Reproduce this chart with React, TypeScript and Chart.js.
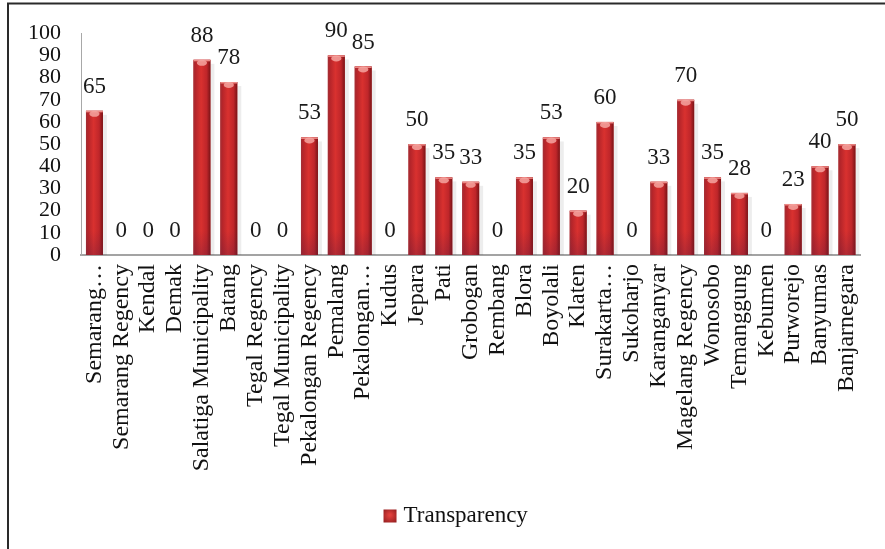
import React, { useEffect, useRef } from "react";
import { Chart, registerables } from "chart.js";

Chart.register(...registerables);

const categories = [
  "Semarang…", "Semarang Regency", "Kendal", "Demak", "Salatiga Municipality", "Batang",
  "Tegal Regency", "Tegal Municipality", "Pekalongan Regency", "Pemalang", "Pekalongan…",
  "Kudus", "Jepara", "Pati", "Grobogan", "Rembang", "Blora", "Boyolali", "Klaten",
  "Surakarta…", "Sukoharjo", "Karanganyar", "Magelang Regency", "Wonosobo", "Temanggung",
  "Kebumen", "Purworejo", "Banyumas", "Banjarnegara",
];
const transparency = [
  65, 0, 0, 0, 88, 78, 0, 0, 53, 90, 85, 0, 50, 35, 33, 0, 35, 53, 20, 60, 0, 33, 70, 35, 28, 0, 23, 40, 50,
];
const seriesName = "Transparency";
const yMin = 0;
const yMax = 100;
const yStep = 10;

const SERIF = "'Liberation Serif', 'Times New Roman', serif";

export default function App() {
  const ref = useRef<HTMLCanvasElement>(null);

  useEffect(() => {
    const canvas = ref.current;
    if (!canvas) return;

    const framePlugin = {
      id: "frame",
      beforeDraw(chart: any) {
        const ctx = chart.ctx;
        ctx.save();
        ctx.fillStyle = "#ffffff";
        ctx.fillRect(0, 0, chart.width, chart.height);
        ctx.strokeStyle = "#2a2a2a";
        ctx.lineWidth = 2;
        ctx.strokeRect(8, 3.5, chart.width + 20, chart.height + 20);
        ctx.restore();
      },
    };

    const barStylePlugin = {
      id: "barStyle",
      afterDatasetsDraw(chart: any) {
        const ctx = chart.ctx;
        const meta = chart.getDatasetMeta(0);
        meta.data.forEach((bar: any, i: number) => {
          const v = transparency[i];
          if (!v) return;
          const { x, y, base, width } = bar.getProps(["x", "y", "base", "width"], true);
          const l = x - width / 2;
          const r = x + width / 2;
          ctx.save();
          ctx.fillStyle = "rgba(0,0,0,0.07)";
          ctx.fillRect(r, y + 4, 4, base - y - 4);
          const g = ctx.createLinearGradient(l, 0, r, 0);
          g.addColorStop(0, "#a03036");
          g.addColorStop(0.12, "#b5252a");
          g.addColorStop(0.45, "#d9312f");
          g.addColorStop(0.78, "#bf262a");
          g.addColorStop(1, "#7a1417");
          ctx.fillStyle = g;
          ctx.fillRect(l, y, width, base - y);
          const gb = ctx.createLinearGradient(0, base - 24, 0, base);
          gb.addColorStop(0, "rgba(110,30,60,0)");
          gb.addColorStop(1, "rgba(110,30,60,0.35)");
          ctx.fillStyle = gb;
          ctx.fillRect(l, base - 24, width, 24);
          ctx.fillStyle = "#ec8a86";
          ctx.fillRect(l, y, width, 1.5);
          ctx.beginPath();
          ctx.ellipse(x, y + 3, width * 0.3, 3, 0, 0, Math.PI * 2);
          ctx.fillStyle = "rgba(245,165,160,0.85)";
          ctx.fill();
          ctx.restore();
        });
      },
    };

    const labelPlugin = {
      id: "valueLabels",
      afterDatasetsDraw(chart: any) {
        const ctx = chart.ctx;
        const meta = chart.getDatasetMeta(0);
        ctx.save();
        ctx.font = `23px ${SERIF}`;
        ctx.fillStyle = "#1a1a1a";
        ctx.textAlign = "center";
        ctx.textBaseline = "middle";
        meta.data.forEach((bar: any, i: number) => {
          const { x, y } = bar.getProps(["x", "y"], true);
          ctx.fillText(String(transparency[i]), x, y - 24);
        });
        ctx.restore();
      },
    };

    const legendPlugin = {
      id: "customLegend",
      afterDraw(chart: any) {
        const ctx = chart.ctx;
        const area = chart.chartArea;
        ctx.save();
        ctx.font = `23px ${SERIF}`;
        const tw = ctx.measureText(seriesName).width;
        const box = 13;
        const gap = 7;
        const total = box + gap + tw;
        const cx = (area.left + area.right) / 2 - 15;
        const cy = chart.height - 33;
        const sx = cx - total / 2;
        const g = ctx.createRadialGradient(sx + box / 2, cy - 1, 1, sx + box / 2, cy, box * 0.75);
        g.addColorStop(0, "#e0403c");
        g.addColorStop(1, "#8a1a1c");
        ctx.fillStyle = g;
        ctx.fillRect(sx, cy - box / 2, box, box);
        ctx.fillStyle = "#111";
        ctx.textAlign = "left";
        ctx.textBaseline = "middle";
        ctx.fillText(seriesName, sx + box + gap, cy);
        ctx.restore();
      },
    };

    const chart = new Chart(canvas, {
      type: "bar",
      data: {
        labels: categories,
        datasets: [
          {
            label: seriesName,
            data: transparency,
            backgroundColor: "#c3282b",
            borderWidth: 0,
            barPercentage: 0.63,
            categoryPercentage: 1,
          },
        ],
      },
      options: {
        responsive: false,
        animation: false,
        devicePixelRatio: 1,
        layout: { padding: { top: 33, left: 10, right: 15, bottom: 0 } },
        plugins: {
          tooltip: { enabled: false },
          legend: { display: false },
        },
        scales: {
          x: {
            grid: { display: false, drawTicks: false },
            border: { display: true, color: "#a3a3a3", width: 2 },
            ticks: {
              autoSkip: false,
              minRotation: 90,
              maxRotation: 90,
              padding: 9,
              color: "#111",
              font: { family: SERIF, size: 24 },
            },
            afterFit(scale: any) {
              scale.height = 294;
            },
          },
          y: {
            min: yMin,
            max: yMax,
            grid: { display: false, drawTicks: false },
            border: { display: true, color: "#a8a8a8", width: 1 },
            ticks: {
              stepSize: yStep,
              autoSkip: false,
              padding: 20,
              color: "#111",
              font: { family: SERIF, size: 22 },
            },
            afterFit(scale: any) {
              scale.width = 71;
            },
          },
        },
      },
      plugins: [framePlugin, barStylePlugin, labelPlugin, legendPlugin],
    });

    return () => chart.destroy();
  }, []);

  return (
    <div style={{ position: "absolute", left: 0, top: 0, width: 885, height: 549 }}>
      <canvas ref={ref} width={885} height={549} style={{ display: "block" }} />
    </div>
  );
}
